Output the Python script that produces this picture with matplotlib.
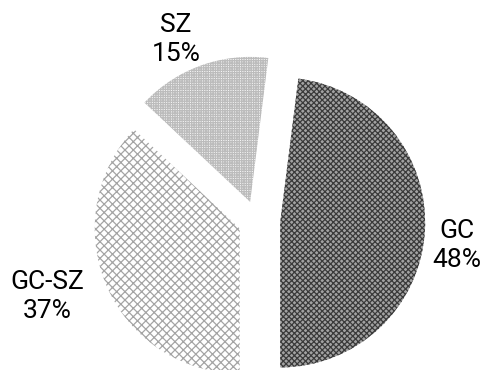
import matplotlib
matplotlib.use("Agg")
import matplotlib.pyplot as plt

# share of cases per group
groups = ["GC", "SZ", "GC-SZ"]
shares = [48, 15, 37]

# where each two-line label sits (axis units, pie radius = 1)
label_xy = [(1.38, -0.17), (-0.56, 1.25), (-1.45, -0.52)]

plt.rcParams["font.family"] = ["Roboto", "DejaVu Sans"]
plt.rcParams["hatch.linewidth"] = 0.9

fig = plt.figure(figsize=(4.84, 3.70), dpi=100)
ax = fig.add_axes([0, 0, 1, 1])

wedges, _ = ax.pie(shares, startangle=-90, counterclock=True,
                   explode=[0.16, 0.14, 0.13], radius=1.0)

styles = [
    dict(facecolor="#a2a2a2", edgecolor="#3a3a3a", hatch="xxxxxx"),
    dict(facecolor="#f6f6f6", edgecolor="#bcbcbc", hatch="+++++++"),
    dict(facecolor="#ffffff", edgecolor="#a4a4a4", hatch="xxxx"),
]
for w, st in zip(wedges, styles):
    w.set_facecolor(st["facecolor"])
    w.set_edgecolor(st["edgecolor"])
    w.set_hatch(st["hatch"])
    w.set_linewidth(0)

for name, val, (x, y) in zip(groups, shares, label_xy):
    ax.text(x, y, f"{name}\n{val}%", ha="center", va="center",
            fontsize=19, linespacing=1.25, color="black")

# pie centre is at (257, 221) px, radius 145 px
s = 145.0
ax.set_xlim(-257 / s, (484 - 257) / s)
ax.set_ylim(-(370 - 221) / s, 221 / s)
ax.set_aspect("auto")
ax.axis("off")

fig.savefig("out.png", dpi=100)
